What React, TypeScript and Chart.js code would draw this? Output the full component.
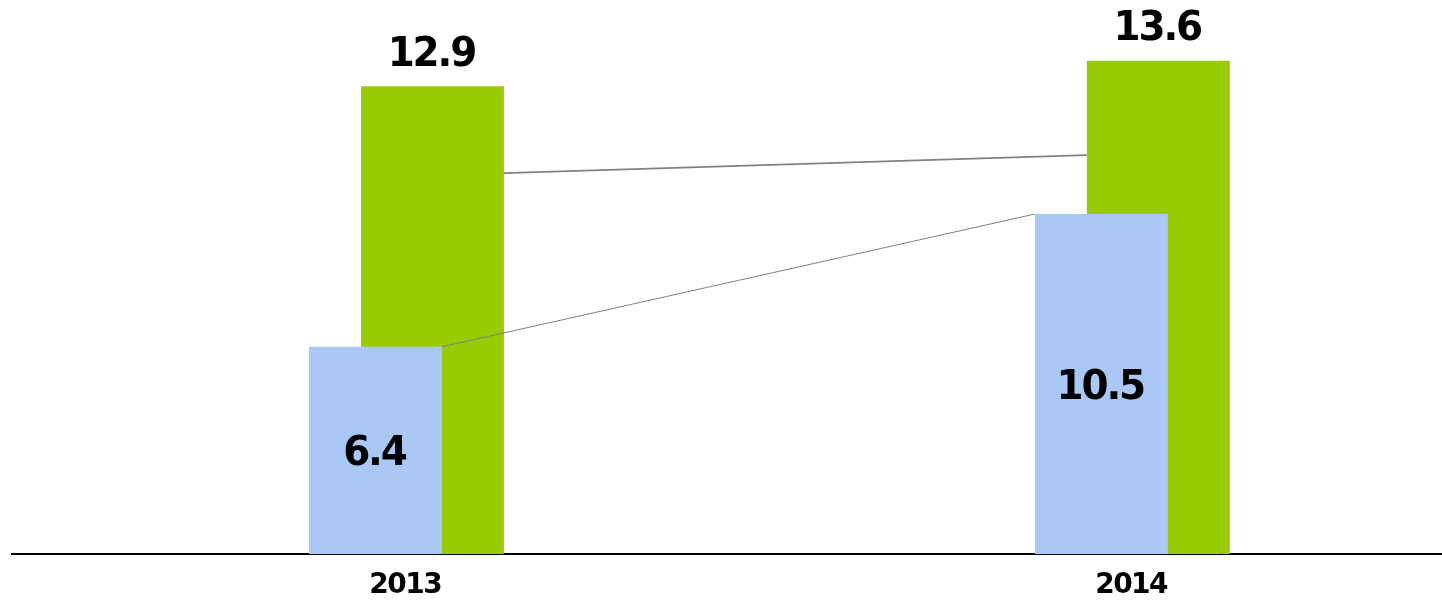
import React, { useEffect, useRef } from "react";
import { Chart, registerables } from "chart.js";

Chart.register(...registerables);

// ---- data ----
const categories = ["2013", "2014"];
const blueValues = [6.4, 10.5];
const greenValues = [12.9, 13.6];
// level (on the green axis) where the upper grey connector meets the green bars
const greenConnector = [10.5, 11.0];

const BLUE = "#A9C8F5";
const GREEN = "#99CC00";
const LINE = "#808080";
const FAMILY = "'DejaVu Sans', Verdana, sans-serif";

function drawText(ctx: any, text: string, x: number, y: number, size: number, sx: number, spacing: number) {
  ctx.save();
  ctx.translate(x, y);
  ctx.scale(sx, 1);
  ctx.font = `bold ${size}px ${FAMILY}`;
  ctx.letterSpacing = `${spacing}px`;
  ctx.textAlign = "left";
  ctx.textBaseline = "alphabetic";
  ctx.fillStyle = "#000";
  const w = ctx.measureText(text).width - spacing;
  ctx.fillText(text, -w / 2, 0);
  ctx.restore();
}

const overlayPlugin = {
  id: "overlay",
  afterDatasetsDraw(chart: any) {
    const ctx = chart.ctx;
    const blueMeta = chart.getDatasetMeta(0);
    const greenMeta = chart.getDatasetMeta(1);
    const yG = chart.scales.y;
    const xS = chart.scales.x;

    ctx.save();
    // blue series connector (top right of first bar to top left of second)
    const b0 = blueMeta.data[0];
    const b1 = blueMeta.data[1];
    ctx.strokeStyle = LINE;
    ctx.lineWidth = 1;
    ctx.beginPath();
    ctx.moveTo(b0.x + b0.width / 2, b0.y);
    ctx.lineTo(b1.x - b1.width / 2, b1.y);
    ctx.stroke();

    // green connector
    const g0 = greenMeta.data[0];
    const g1 = greenMeta.data[1];
    ctx.lineWidth = 1.8;
    ctx.beginPath();
    ctx.moveTo(g0.x + g0.width / 2, yG.getPixelForValue(greenConnector[0]));
    ctx.lineTo(g1.x - g1.width / 2, yG.getPixelForValue(greenConnector[1]));
    ctx.stroke();
    ctx.restore();

    // value labels
    blueMeta.data.forEach((el: any, i: number) => {
      const mid = (el.y + el.base) / 2;
      drawText(ctx, String(blueValues[i]), el.x, mid + 15, 41, 0.95, -2.3);
    });
    greenMeta.data.forEach((el: any, i: number) => {
      drawText(ctx, String(greenValues[i]), el.x, el.y - 20.5, 41, 0.95, -2.3);
    });

    // category labels
    categories.forEach((c, i) => {
      drawText(ctx, c, xS.getPixelForValue(i) + 2, xS.bottom + 39.3, 28, 1, -1.5);
    });
  },
};

export default function App() {
  const ref = useRef<HTMLCanvasElement | null>(null);

  useEffect(() => {
    document.body.style.margin = "0";
    if (!ref.current) return;
    const chart = new Chart(ref.current, {
      type: "bar",
      data: {
        datasets: [
          {
            label: "blue",
            data: categories.map((_, i) => ({ x: i, y: blueValues[i] })),
            backgroundColor: BLUE,
            yAxisID: "y2",
            barPercentage: 2.333,
            categoryPercentage: 0.157,
          },
          {
            label: "green",
            data: categories.map((_, i) => ({ x: i, y: greenValues[i] })),
            backgroundColor: GREEN,
            yAxisID: "y",
            barPercentage: 2.509,
            categoryPercentage: 0.157,
          },
        ],
      },
      options: {
        animation: false,
        responsive: false,
        layout: { padding: { left: 12, right: 0, top: 10, bottom: 46 } },
        plugins: { legend: { display: false }, tooltip: { enabled: false } },
        scales: {
          x: {
            type: "linear",
            offset: false,
            min: -0.54,
            max: 1.43,
            afterBuildTicks: (scale: any) => {
              scale.ticks = categories.map((_, i) => ({ value: i }));
            },
            grid: { display: false, drawTicks: false },
            border: { display: true, color: "#000", width: 2 },
            ticks: { display: false },
          },
          y: { display: false, min: 0, max: 15 },
          y2: { display: false, min: 0, max: 16.8 },
        },
      },
      plugins: [overlayPlugin],
    });
    return () => chart.destroy();
  }, []);

  return (
    <div style={{ width: 1442, height: 600 }}>
      <canvas ref={ref} width={1442} height={600} />
    </div>
  );
}
